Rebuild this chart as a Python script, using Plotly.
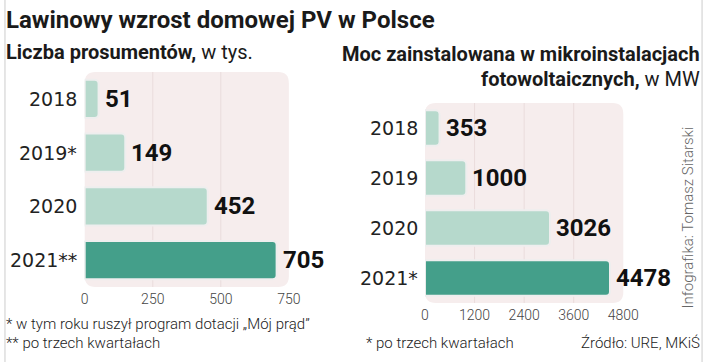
import plotly.graph_objects as go

W, H = 720, 362

# ---- data ----
left_years = ["2018", "2019*", "2020", "2021**"]
left_values = [51, 149, 452, 705]
left_ticks = [0, 250, 500, 750]

right_years = ["2018", "2019", "2020", "2021*"]
right_values = [353, 1000, 3026, 4478]
right_ticks = [0, 1200, 2400, 3600, 4800]

LIGHT = "#b6d9cc"
DARK = "#449f8a"
BG = "#f6eded"
GRID = "#eadcdc"

def px(x):
    return x / W

def py(y):
    return 1 - y / H

def rrect(x0, y0, x1, y1, r):
    def P(x, y):
        return f"{px(x):.5f},{py(y):.5f}"
    return (f"M {P(x0 + r, y0)} L {P(x1 - r, y0)} Q {P(x1, y0)} {P(x1, y0 + r)} "
            f"L {P(x1, y1 - r)} Q {P(x1, y1)} {P(x1 - r, y1)} "
            f"L {P(x0 + r, y1)} Q {P(x0, y1)} {P(x0, y1 - r)} "
            f"L {P(x0, y0 + r)} Q {P(x0, y0)} {P(x0 + r, y0)} Z")

L_X0, L_X1, L_Y0, L_Y1 = 83, 293, 72, 287
R_X0, R_X1, R_Y0, R_Y1 = 433, 637, 103, 303

left_pos = list(range(len(left_years)))
right_pos = list(range(len(right_years)))

fig = go.Figure()

fig.add_trace(go.Bar(
    y=left_pos, x=left_values, orientation="h",
    marker=dict(color=[LIGHT, LIGHT, LIGHT, DARK], cornerradius=4,
                line=dict(color="#eeeeee", width=2)),
    xaxis="x", yaxis="y", hoverinfo="skip", showlegend=False,
))
fig.add_trace(go.Bar(
    y=right_pos, x=right_values, orientation="h",
    marker=dict(color=[LIGHT, LIGHT, LIGHT, DARK], cornerradius=4,
                line=dict(color="#eeeeee", width=2)),
    xaxis="x2", yaxis="y2", hoverinfo="skip", showlegend=False,
))

tickfont = dict(family="Roboto", size=14, color="#444444", weight=300)

fig.update_layout(
    width=W, height=H,
    margin=dict(l=0, r=0, t=0, b=0),
    paper_bgcolor="white", plot_bgcolor="rgba(0,0,0,0)",
    bargap=0.29,
    xaxis=dict(domain=[px(L_X0), px(L_X1)], range=[0, 750], tickvals=left_ticks,
               showgrid=False, zeroline=False, showline=False, ticks="",
               tickfont=tickfont, ticklabelstandoff=2, fixedrange=True, anchor="y"),
    yaxis=dict(domain=[py(L_Y1), py(L_Y0)], range=[3.5, -0.5],
               showticklabels=False, showgrid=False,
               zeroline=False, ticks="", fixedrange=True, anchor="x"),
    xaxis2=dict(domain=[px(R_X0), px(R_X1)], range=[0, 4800], tickvals=right_ticks,
                showgrid=False, zeroline=False, showline=False, ticks="",
                tickfont=tickfont, ticklabelstandoff=2, anchor="y2", fixedrange=True),
    yaxis2=dict(domain=[py(R_Y1), py(R_Y0)], range=[3.5, -0.5],
                showticklabels=False, showgrid=False,
                zeroline=False, ticks="", fixedrange=True, anchor="x2"),
)

shapes = [
    dict(type="path", xref="paper", yref="paper", path=rrect(L_X0, L_Y0, L_X1, L_Y1, 11),
         fillcolor=BG, line=dict(width=0), layer="below"),
    dict(type="path", xref="paper", yref="paper", path=rrect(R_X0, R_Y0, R_X1, R_Y1, 11),
         fillcolor=BG, line=dict(width=0), layer="below"),
    dict(type="line", xref="paper", yref="paper", x0=px(1), x1=px(1), y0=0, y1=1,
         line=dict(color="#cccccc", width=1)),
    dict(type="line", xref="paper", yref="paper", x0=px(718), x1=px(718), y0=0, y1=1,
         line=dict(color="#cccccc", width=1)),
]
for t in left_ticks[1:-1]:
    shapes.append(dict(type="line", xref="x", yref="paper", x0=t, x1=t,
                       y0=py(L_Y1), y1=py(L_Y0), line=dict(color=GRID, width=1), layer="below"))
for t in right_ticks[1:-1]:
    shapes.append(dict(type="line", xref="x2", yref="paper", x0=t, x1=t,
                       y0=py(R_Y1), y1=py(R_Y0), line=dict(color=GRID, width=1), layer="below"))
fig.update_layout(shapes=shapes)

ann = []
yearfont = dict(family="DejaVu Sans", size=19, color="#222222")
valfont = dict(family="Roboto", size=24, color="#111111", weight=700)
for i, (yr, v) in enumerate(zip(left_years, left_values)):
    ann.append(dict(xref="paper", yref="y", x=px(77), y=i, text=yr, showarrow=False,
                    xanchor="right", yanchor="middle", font=yearfont))
    ann.append(dict(xref="x", yref="y", x=v, y=i, text=f"<b>{v}</b>", showarrow=False,
                    xanchor="left", yanchor="middle", xshift=4, font=valfont))
for i, (yr, v) in enumerate(zip(right_years, right_values)):
    ann.append(dict(xref="paper", yref="y2", x=px(428), y=i, text=yr, showarrow=False,
                    xanchor="right", yanchor="middle", font=yearfont))
    ann.append(dict(xref="x2", yref="y2", x=v, y=i, text=f"<b>{v}</b>", showarrow=False,
                    xanchor="left", yanchor="middle", xshift=4, font=valfont))

def text(x, y, s, size, anchor="left", color="#111111", weight=None, family="Roboto", angle=0):
    f = dict(family=family, size=size, color=color)
    if weight:
        f["weight"] = weight
    return dict(xref="paper", yref="paper", x=px(x), y=py(y), text=s, showarrow=False,
                xanchor=anchor, yanchor="middle", font=f, textangle=angle)

ann += [
    text(0, 20, "<b>Lawinowy wzrost domowej PV w Polsce</b>", 24, color="#1a1a1a"),
    text(0, 52, "<b>Liczba prosumentów,</b> w tys.", 20, color="#1a1a1a"),
    text(718, 54, "<b>Moc zainstalowana w mikroinstalacjach</b>", 20, anchor="right", color="#1a1a1a"),
    text(718, 79, "<b>fotowoltaicznych,</b> w MW", 20, anchor="right", color="#1a1a1a"),
    text(0, 324, "* w tym roku ruszył program dotacji „Mój prąd”", 15, color="#222222", weight=300),
    text(0, 343, "** po trzech kwartałach", 15, color="#222222", weight=300),
    text(370, 343, "* po trzech kwartałach", 15, color="#222222", weight=300),
    text(718, 343, "Źródło: URE, MKiŚ", 15, anchor="right", color="#222222", weight=300),
    dict(xref="paper", yref="paper", x=px(704), y=py(217), text="Infografika: Tomasz Sitarski",
         showarrow=False, textangle=-90, xanchor="center", yanchor="middle",
         font=dict(family="Roboto", size=15, color="#666666", weight=300)),
]
fig.update_layout(annotations=ann)

fig.write_html(
    "out.html",
    config={"displayModeBar": False, "staticPlot": True},
    post_script="document.documentElement.style.margin='0';document.body.style.margin='0';",
)
